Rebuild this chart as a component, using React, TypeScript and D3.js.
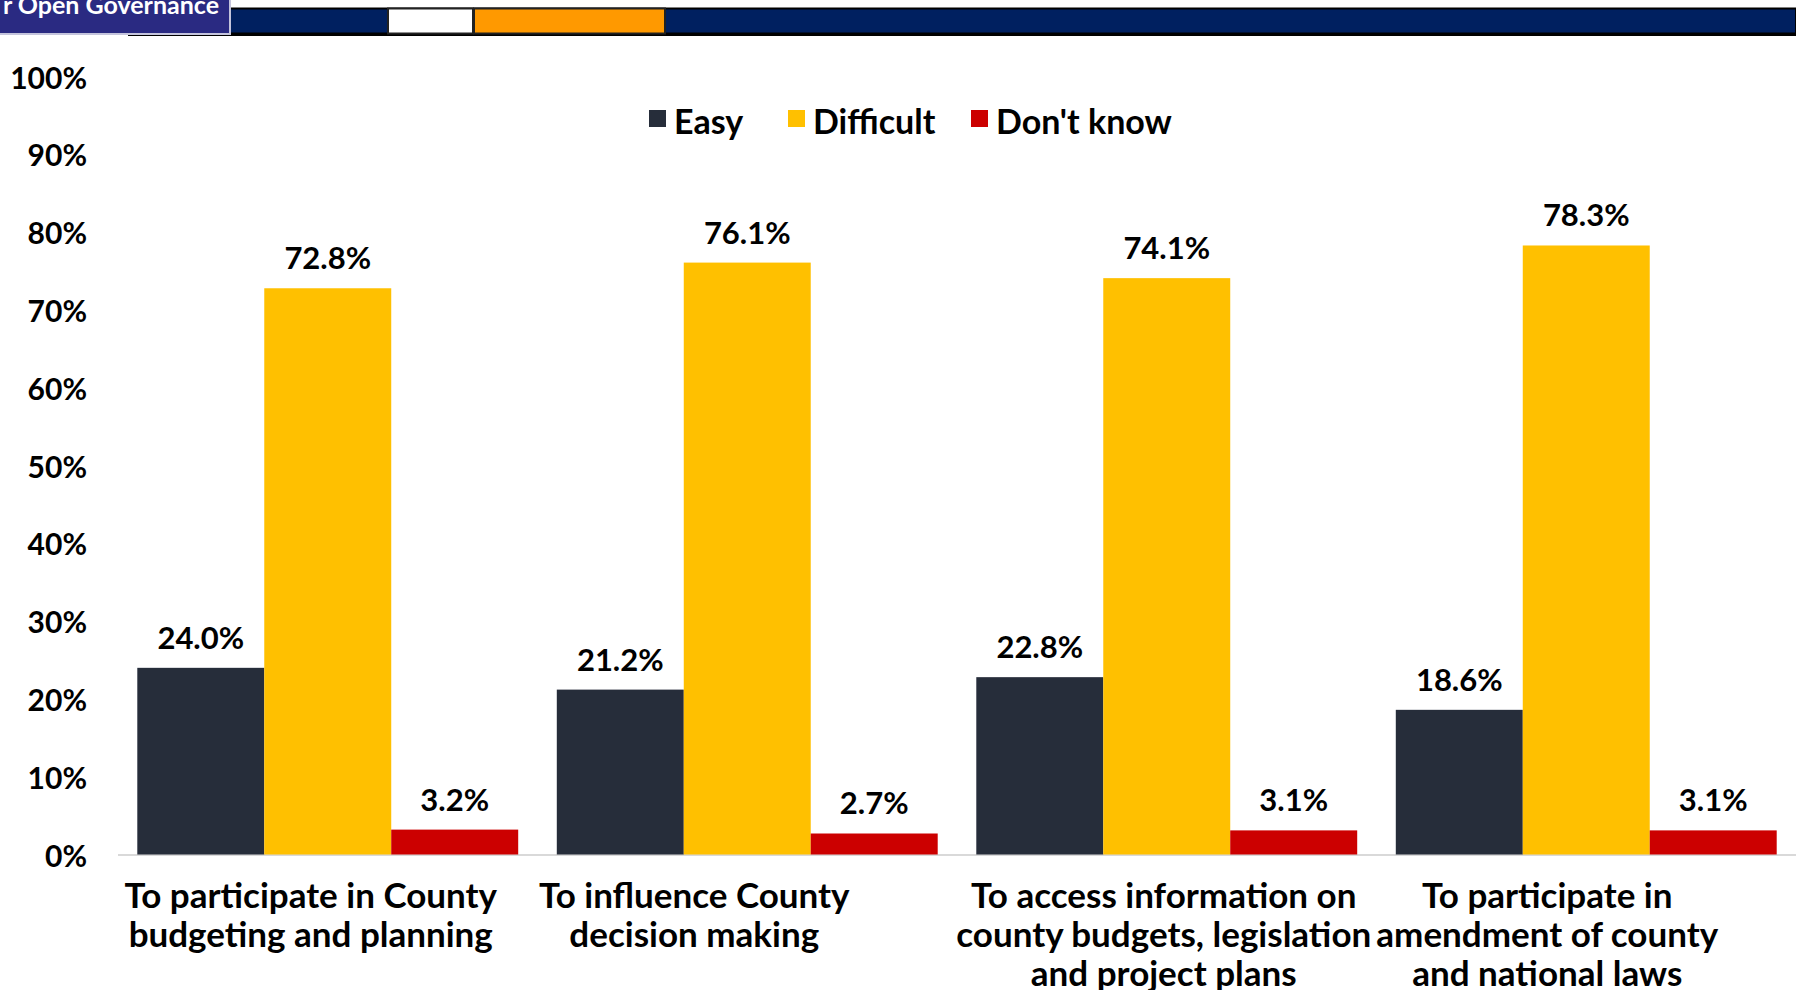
import React from "react";
import * as d3 from "d3";

const categories = [
  ["To participate in County", "budgeting and planning"],
  ["To influence County", "decision making"],
  ["To access information on", "county budgets, legislation", "and project plans"],
  ["To participate in", "amendment of county", "and national laws"],
];
const seriesNames = ["Easy", "Difficult", "Don't know"];
const easy = [24.0, 21.2, 22.8, 18.6];
const difficult = [72.8, 76.1, 74.1, 78.3];
const dontKnow = [3.2, 2.7, 3.1, 3.1];
const yTicks = [0, 10, 20, 30, 40, 50, 60, 70, 80, 90, 100];

const colors = ["#262D3A", "#FFC000", "#CC0000"];
const W = 1796;
const H = 990;
const FONT = "Lato, 'Open Sans', sans-serif";

export default function App() {
  const series = [easy, difficult, dontKnow];
  const catIdx = categories.map((_, i) => String(i));
  const x0 = d3.scaleBand<string>().domain(catIdx).range([118, 1796]).paddingInner(0.092).paddingOuter(0.046);
  const x1 = d3.scaleBand<string>().domain(seriesNames).range([0, x0.bandwidth()]).padding(0);
  const y = d3.scaleLinear().domain([0, 100]).range([854.5, 76.7]);

  const labelDx = [-17, -53, -3, -39];
  const legendX = [649, 788, 971];

  return (
    <svg width={W} height={H} style={{ position: "absolute", left: 0, top: 0, background: "#fff" }} fontFamily={FONT}>
      {/* header */}
      <line x1={128} x2={W} y1={34.5} y2={34.5} stroke="#000" strokeWidth={3} />
      <rect x={230} y={8.5} width={W - 230} height={25} fill="#002060" stroke="#000" strokeWidth={2} />
      <rect x={388} y={8.5} width={85} height={25} fill="#fff" stroke="#222" strokeWidth={2} />
      <rect x={474} y={8.5} width={191} height={25} fill="#FF9900" stroke="#222" strokeWidth={2} />
      <rect x={-2} y={-2} width={232} height={36} fill="#2A2A82" stroke="#C4C4DC" strokeWidth={2} />
      <text x={219} y={14} textAnchor="end" fill="#fff" fontSize={25} fontWeight={700}>r Open Governance</text>

      {/* y axis labels */}
      {yTicks.map((t) => (
        <text key={t} x={87} y={y(t)} textAnchor="end" dominantBaseline="central" fontSize={30} fontWeight={700} fill="#000">
          {t}%
        </text>
      ))}

      {/* baseline */}
      <line x1={118} x2={W} y1={y(0) + 0.5} y2={y(0) + 0.5} stroke="#D9D9D9" strokeWidth={2} />

      {/* bars */}
      {catIdx.map((c, i) => (
        <g key={c} transform={`translate(${x0(c)},0)`}>
          {seriesNames.map((s, j) => {
            const v = series[j][i];
            const bx = x1(s)!;
            return (
              <g key={s}>
                <rect x={bx} y={y(v)} width={x1.bandwidth()} height={y(0) - y(v)} fill={colors[j]} />
                <text x={bx + x1.bandwidth() / 2} y={y(v) - 19} textAnchor="middle" fontSize={31} fontWeight={700} fill="#000">
                  {v.toFixed(1)}%
                </text>
              </g>
            );
          })}
        </g>
      ))}

      {/* x labels */}
      {categories.map((lines, i) => {
        const cx = x0(String(i))! + x0.bandwidth() / 2 + labelDx[i];
        return (
          <text key={i} x={cx} textAnchor="middle" fontSize={35} fontWeight={700} fill="#000">
            {lines.map((l, k) => (
              <tspan key={k} x={cx} y={908 + k * 39}>{l}</tspan>
            ))}
          </text>
        );
      })}

      {/* legend */}
      {seriesNames.map((s, j) => (
        <g key={s}>
          <rect x={legendX[j]} y={110} width={17} height={17} fill={colors[j]} />
          <text x={legendX[j] + 25} y={120} dominantBaseline="central" fontSize={34} fontWeight={700} fill="#000">{s}</text>
        </g>
      ))}
    </svg>
  );
}
